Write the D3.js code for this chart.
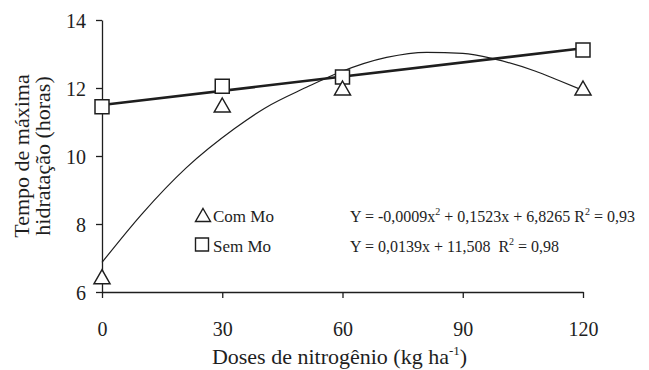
<!DOCTYPE html>
<html>
<head>
<meta charset="utf-8">
<script src="https://cdn.jsdelivr.net/npm/d3@7"></script>
<style>
  body { margin: 0; background: #fff; }
  text { font-family: "Liberation Serif", "Times New Roman", serif; fill: #1e1e1e; }
</style>
</head>
<body>
<div id="chart"></div>
<script>
// Observed means per nitrogen dose
const doses = [0, 30, 60, 120];
const comMo = [6.45, 11.5, 12.0, 12.0];
const semMo = [11.45, 12.05, 12.32, 13.12];

// Fitted curve (Com Mo)
const fitComX = [0, 10, 21, 33, 40.5, 51, 59, 71, 81, 90, 98, 108, 114, 120];
const fitComY = [6.87, 8.3, 9.65, 10.8, 11.4, 12.02, 12.45, 12.9, 13.05, 13.02, 12.85, 12.5, 12.22, 11.93];

// Fitted line (Sem Mo)
const fitSemX = [0, 120];
const fitSemY = [11.5, 13.17];

const xTicks = [0, 30, 60, 90, 120];
const yTicks = [6, 8, 10, 12, 14];

const ink = '#1e1e1e';
const margin = { top: 20, right: 66, bottom: 78, left: 102 };
const width = 649 - margin.left - margin.right;
const height = 370 - margin.top - margin.bottom;

const svg = d3.select('#chart')
    .append('svg')
    .attr('width', 649)
    .attr('height', 370);

const g = svg.append('g')
    .attr('transform', `translate(${margin.left},${margin.top})`);

const x = d3.scaleLinear().domain([0, 120]).range([0, width]);
const y = d3.scaleLinear().domain([6, 14]).range([height, 0]);

// Axes
const xAxis = g.append('g')
    .attr('transform', `translate(0,${height})`)
    .call(d3.axisBottom(x).tickValues(xTicks).tickSize(6).tickPadding(24).tickSizeOuter(0));
const yAxis = g.append('g')
    .call(d3.axisLeft(y).tickValues(yTicks).tickSize(6).tickPadding(10).tickSizeOuter(0));

[xAxis, yAxis].forEach(a => {
    a.select('.domain').attr('stroke', ink).attr('stroke-width', 1.3);
    a.selectAll('.tick line').attr('stroke', ink).attr('stroke-width', 1.3);
    a.selectAll('.tick text')
        .style('font-family', '"Liberation Serif", serif')
        .style('font-size', '20px')
        .attr('fill', ink);
});
yAxis.selectAll('.tick text').attr('dy', '0.38em');

// Fitted curves
const line = d3.line().x(d => x(d[0])).y(d => y(d[1]));

g.append('path')
    .datum(d3.zip(fitComX, fitComY))
    .attr('fill', 'none')
    .attr('stroke', ink)
    .attr('stroke-width', 1.2)
    .attr('d', line.curve(d3.curveMonotoneX));

g.append('path')
    .datum(d3.zip(fitSemX, fitSemY))
    .attr('fill', 'none')
    .attr('stroke', ink)
    .attr('stroke-width', 2.6)
    .attr('d', line.curve(d3.curveLinear));

// Marker shapes (centred on their bounding box)
function triangle(cx, cy, w, h) {
    return `M${cx},${cy - h / 2}L${cx + w / 2},${cy + h / 2}L${cx - w / 2},${cy + h / 2}Z`;
}
function square(cx, cy, s) {
    return `M${cx - s / 2},${cy - s / 2}h${s}v${s}h${-s}Z`;
}

g.selectAll('.sq')
    .data(d3.zip(doses, semMo))
    .enter()
    .append('path')
    .attr('class', 'sq')
    .attr('d', d => square(x(d[0]), y(d[1]), 14))
    .attr('fill', '#fff')
    .attr('stroke', ink)
    .attr('stroke-width', 1.5);

g.selectAll('.tri')
    .data(d3.zip(doses, comMo))
    .enter()
    .append('path')
    .attr('class', 'tri')
    .attr('d', d => triangle(x(d[0]), y(d[1]), 16, 14))
    .attr('fill', '#fff')
    .attr('stroke', ink)
    .attr('stroke-width', 1.5);

// Legend
svg.append('path')
    .attr('d', triangle(203, 215, 15, 13))
    .attr('fill', 'none').attr('stroke', ink).attr('stroke-width', 1.4);
svg.append('path')
    .attr('d', square(202, 244.5, 13))
    .attr('fill', 'none').attr('stroke', ink).attr('stroke-width', 1.4);

svg.append('text').attr('x', 213).attr('y', 222).style('font-size', '17px').text('Com Mo');
svg.append('text').attr('x', 213).attr('y', 252).style('font-size', '17px').text('Sem Mo');

const eq1 = svg.append('text').attr('x', 350).attr('y', 222).style('font-size', '16px');
eq1.append('tspan').text('Y = -0,0009x');
eq1.append('tspan').attr('dy', -7).style('font-size', '10px').text('2');
eq1.append('tspan').attr('dy', 7).text(' + 0,1523x + 6,8265 R');
eq1.append('tspan').attr('dy', -7).style('font-size', '10px').text('2');
eq1.append('tspan').attr('dy', 7).text(' = 0,93');

const eq2 = svg.append('text').attr('x', 350).attr('y', 252).style('font-size', '16px');
eq2.append('tspan').text('Y = 0,0139x + 11,508\u00a0\u00a0R');
eq2.append('tspan').attr('dy', -7).style('font-size', '10px').text('2');
eq2.append('tspan').attr('dy', 7).text(' = 0,98');

// Axis titles
const xt = svg.append('text')
    .attr('x', margin.left + width / 2 - 3)
    .attr('y', 364)
    .attr('text-anchor', 'middle')
    .style('font-size', '22px');
xt.append('tspan').text('Doses de nitrogênio (kg ha');
xt.append('tspan').attr('dy', -9).style('font-size', '13px').text('-1');
xt.append('tspan').attr('dy', 9).text(')');

const yt = svg.append('text')
    .attr('transform', `translate(0,${margin.top + height / 2}) rotate(-90)`)
    .attr('text-anchor', 'middle')
    .style('font-size', '22px');
yt.append('tspan').attr('x', 0).attr('y', 29).text('Tempo de máxima');
yt.append('tspan').attr('x', 0).attr('y', 50).text('hidratação (horas)');
</script>
</body>
</html>
